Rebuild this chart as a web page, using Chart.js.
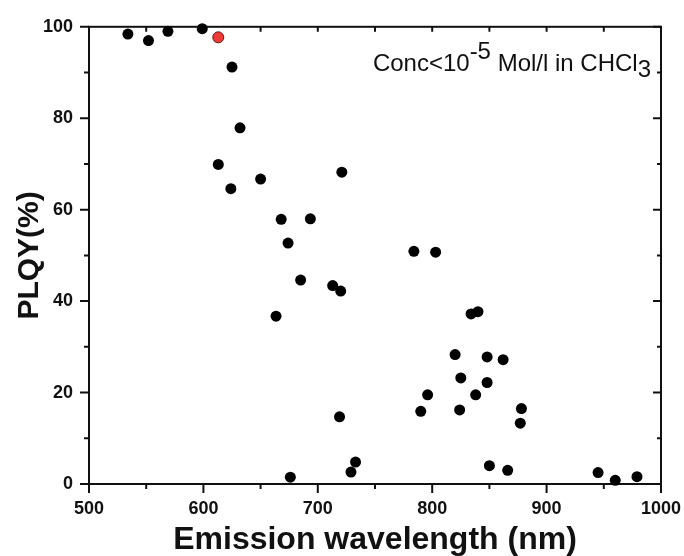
<!DOCTYPE html>
<html>
<head>
<meta charset="utf-8">
<script src="https://cdn.jsdelivr.net/npm/chart.js@4"></script>
<style>
  html, body { margin: 0; background: #fff; }
</style>
</head>
<body>
<canvas id="myChart" width="684" height="556"></canvas>
<script>
const wavelength = [534, 552, 569, 599, 625, 632, 613, 650, 624, 721, 668, 693.5, 674, 685, 713, 720, 784, 803, 663.5, 834, 840,
  820, 848, 862, 825, 848, 796, 838, 790, 824, 719, 878, 877, 676, 729, 733, 850, 866, 945, 960, 979]
const plqy = [98.4, 97.0, 99.0, 99.6, 91.2, 77.9, 69.9, 66.7, 64.6, 68.2, 57.9, 58.0, 52.7, 44.6, 43.4, 42.2, 50.9, 50.7, 36.7, 37.2, 37.7,
  28.3, 27.8, 27.2, 23.2, 22.2, 19.5, 19.5, 15.9, 16.2, 14.7, 16.5, 13.3, 1.5, 2.6, 4.8, 4.0, 3.0, 2.5, 0.8, 1.6]
const redWavelength = [613]
const redPlqy = [97.7]

const xTicks = [500, 600, 700, 800, 900, 1000]
const xMinor = [550, 650, 750, 850, 950]
const yTicks = [0, 20, 40, 60, 80, 100]
const yMinor = [10, 30, 50, 70, 90]

const toPoints = (xs, ys) => xs.map((x, i) => ({ x: x, y: ys[i] }))

const FONT = "'Liberation Sans', Arial, sans-serif"

// frame + tick marks, drawn from the scales
const framePlugin = {
  id: 'frame',
  beforeDatasetsDraw(chart) {
    const { ctx, chartArea: a, scales: { x, y } } = chart
    ctx.save()
    ctx.strokeStyle = '#111'
    ctx.lineWidth = 2
    ctx.strokeRect(a.left, a.top, a.right - a.left, a.bottom - a.top)
    ctx.beginPath()
    const all = (maj, min, f) => { maj.forEach(v => f(v, true)); min.forEach(v => f(v, false)) }
    all(xTicks, xMinor, (v, major) => {
      const px = x.getPixelForValue(v)
      ctx.moveTo(px, a.bottom); ctx.lineTo(px, a.bottom + (major ? 9 : 5))
      ctx.moveTo(px, a.top); ctx.lineTo(px, a.top + 5)
    })
    all(yTicks, yMinor, (v, major) => {
      const py = y.getPixelForValue(v)
      ctx.moveTo(a.left, py); ctx.lineTo(a.left - (major ? 9 : 5), py)
      ctx.moveTo(a.right, py); ctx.lineTo(a.right - (major ? 8 : 4), py)
    })
    ctx.stroke()
    ctx.restore()
  },
  afterDraw(chart) {
    const { ctx, chartArea: a } = chart
    ctx.save()
    ctx.fillStyle = '#111'
    ctx.textBaseline = 'alphabetic'
    ctx.font = '24px ' + FONT
    const parts = [['Conc<10', 0], ['-5', -12], [' Mol/l in CHCl', 0], ['3', 6]]
    let w = 0
    parts.forEach(p => { w += ctx.measureText(p[0]).width })
    let xx = a.right - 10 - w
    const base = a.top + 44
    parts.forEach(p => {
      ctx.fillText(p[0], xx, base + p[1])
      xx += ctx.measureText(p[0]).width
    })
    ctx.restore()
  }
}

const ctx = document.getElementById('myChart')
new Chart(ctx, {
  type: 'scatter',
  data: {
    datasets: [
      {
        data: toPoints(wavelength, plqy),
        backgroundColor: '#000',
        borderColor: '#000',
        pointRadius: 5.5,
        borderWidth: 0,
        clip: false
      },
      {
        data: toPoints(redWavelength, redPlqy),
        backgroundColor: '#ee3b36',
        borderColor: '#5a1a18',
        pointRadius: 5.5,
        borderWidth: 1,
        clip: false
      }
    ]
  },
  options: {
    responsive: false,
    animation: false,
    layout: { padding: { top: 24, right: 23, left: 0, bottom: 0 } },
    plugins: { legend: { display: false }, tooltip: { enabled: false } },
    scales: {
      x: {
        type: 'linear',
        min: 500,
        max: 1000,
        afterBuildTicks: s => { s.ticks = xTicks.map(v => ({ value: v })) },
        afterFit: s => { s.height = 72; s.paddingRight = 0; s.paddingLeft = 0 },
        grid: { display: false, drawTicks: false },
        border: { display: false },
        ticks: {
          color: '#111', padding: 14, maxRotation: 0,
          callback: v => String(v),
          font: { family: FONT, size: 18, weight: 'bold' }
        },
        title: {
          display: true,
          text: 'Emission wavelength (nm)',
          color: '#111',
          padding: { top: 0, bottom: -3 },
          font: { family: FONT, size: 32, weight: 'bold' }
        }
      },
      y: {
        min: 0,
        max: 100,
        afterBuildTicks: s => { s.ticks = yTicks.map(v => ({ value: v })) },
        afterFit: s => { s.width = 89 },
        grid: { display: false, drawTicks: false },
        border: { display: false },
        ticks: { color: '#111', padding: 16, font: { family: FONT, size: 18, weight: 'bold' } },
        title: {
          display: true,
          text: 'PLQY(%)',
          color: '#111',
          padding: { top: 12, bottom: 0 },
          font: { family: FONT, size: 30, weight: 'bold' }
        }
      }
    }
  },
  plugins: [framePlugin]
})
</script>
</body>
</html>
